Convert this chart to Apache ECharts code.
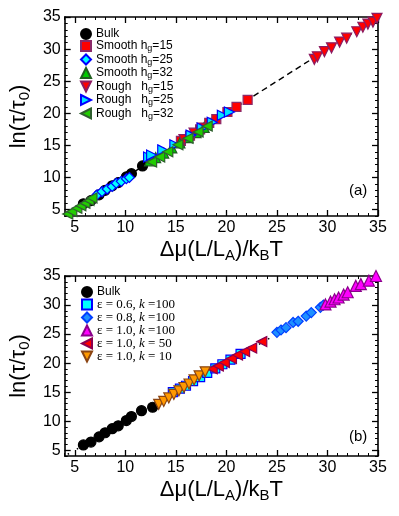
<!DOCTYPE html>
<html>
<head>
<meta charset="utf-8">
<script src="https://cdn.jsdelivr.net/npm/echarts@6/dist/echarts.min.js"></script>
<style>
  html, body { margin: 0; padding: 0; background: #fff; }
  #chart { width: 399px; height: 516px; }
</style>
</head>
<body>
<div id="chart"></div>
<script>
// axis ticks (both panels, both axes)
const axisMin = 4;
const axisMax = 35;
const majorTicks = [5, 10, 15, 20, 25, 30, 35];

// panel (a)
const bulkAX = [5.85, 6.6, 7.4, 8.0, 8.7, 9.3, 10.1, 10.6, 11.7];
const bulkAY = [5.9, 6.4, 7.3, 8.0, 8.7, 9.2, 10.1, 10.6, 11.8];
const smooth15X = [15.5, 16.4, 17.4, 18.3, 19.0, 20.1, 21.0, 22.1];
const smooth15Y = [15.7, 16.5, 17.5, 18.5, 19.1, 20.2, 21.0, 22.1];
const smooth25X = [7.2, 7.7, 8.2, 8.7, 9.1, 9.6, 10.1, 10.4];
const smooth25Y = [7.3, 7.8, 8.2, 8.6, 9.1, 9.4, 9.8, 10.0];
const smooth32X = [12.4, 13.0, 13.8, 14.6, 15.4, 16.2, 17.0, 17.8];
const smooth32Y = [12.6, 13.1, 13.8, 14.6, 15.4, 16.2, 17.0, 17.8];
const rough15X = [15.8, 16.8, 17.6, 28.7, 29.0, 29.7, 30.4, 31.2, 31.9, 32.9, 33.5, 34.0, 34.5, 34.9];
const rough15Y = [15.9, 16.9, 17.7, 28.4, 28.8, 29.6, 30.2, 31.1, 31.7, 32.7, 33.4, 33.9, 34.2, 34.8];
const rough25X = [12.3, 12.6, 13.7, 14.9, 16.5, 17.6, 18.6, 19.6, 20.3];
const rough25Y = [13.2, 13.5, 14.3, 15.1, 16.6, 17.7, 18.6, 19.7, 20.2];
const rough32X = [4.3, 4.7, 5.2, 5.6, 6.0, 6.4, 6.7, 12.6, 13.4, 14.2, 15.2, 16.2, 17.2, 18.1];
const rough32Y = [4.3, 4.7, 5.2, 5.6, 6.0, 6.4, 6.8, 12.4, 13.2, 14.0, 15.1, 16.1, 17.1, 18.0];
const fitAX = [4.3, 35];
const fitAY = [4.3, 35];

// panel (b)
const bulkBX = [5.85, 6.6, 7.4, 8.0, 8.7, 9.3, 10.1, 10.6, 11.6, 12.7];
const bulkBY = [5.9, 6.4, 7.3, 8.0, 8.7, 9.2, 10.1, 10.8, 11.8, 12.4];
const eps06X = [14.7, 15.4, 16.0, 16.7, 17.4, 18.1, 18.9, 19.6, 20.4, 21.4];
const eps06Y = [15.0, 15.6, 16.1, 16.9, 17.6, 18.3, 19.1, 19.8, 20.6, 21.6];
const eps08X = [25.0, 25.4, 25.9, 26.6, 27.1, 27.9, 28.4, 29.3, 29.6];
const eps08Y = [25.3, 25.7, 26.1, 27.0, 27.2, 28.1, 28.7, 29.6, 30.0];
const k100X = [29.8, 30.3, 30.7, 31.1, 31.6, 32.0, 32.8, 33.3, 34.1, 34.8];
const k100Y = [30.1, 30.6, 31.0, 31.3, 31.8, 32.2, 33.3, 33.6, 34.2, 35.0];
const k50X = [18.6, 19.2, 19.8, 20.5, 21.1, 21.8, 22.5, 23.5];
const k50Y = [19.0, 19.5, 20.1, 20.8, 21.4, 22.0, 22.6, 23.7];
const k10X = [13.3, 13.8, 14.3, 14.8, 15.3, 15.8, 16.3, 16.8, 17.3, 17.9];
const k10Y = [12.9, 13.4, 14.0, 14.6, 15.2, 15.8, 16.4, 17.1, 17.8, 18.5];
const fitBX = [4.3, 35];
const fitBY = [4.3, 35];

const SANS = '"Liberation Sans", Arial, sans-serif';
const SERIF = '"Liberation Serif", "DejaVu Serif", serif';

const minorTicks = [];
for (let v = axisMin; v <= axisMax; v++) minorTicks.push(v);

const TRI_DOWN = 'path://M0,0L10,0L5,10Z';
const TRI_RIGHT = 'path://M0,0L10,5L0,10Z';
const TRI_LEFT = 'path://M10,0L0,5L10,10Z';

function pairs(xs, ys) {
    return xs.map((x, i) => [x, ys[i]]);
}

const chart = echarts.init(document.getElementById('chart'));

// 4 axes per direction per grid: main (labels + major ticks), minor, mirrored major, mirrored minor
function makeAxes(dim, gi, name, nameGap) {
    const posA = dim === 'x' ? 'bottom' : 'left';
    const posB = dim === 'x' ? 'top' : 'right';
    const base = {
        type: 'value', gridIndex: gi, min: axisMin, max: axisMax,
        splitLine: { show: false }
    };
    const line = { show: true, onZero: false, lineStyle: { color: '#000', width: 1.6 } };
    const noLine = { show: false, onZero: false };
    const major = { show: true, inside: true, length: 6, customValues: majorTicks, lineStyle: { color: '#000', width: 1.3 } };
    const minor = { show: true, inside: true, length: 3, customValues: minorTicks, lineStyle: { color: '#000', width: 1 } };
    return [
        Object.assign({}, base, {
            position: posA, axisLine: line, axisTick: major,
            axisLabel: { customValues: majorTicks, fontSize: 16, color: '#000', fontFamily: SANS, margin: 4 },
            name: name, nameLocation: 'middle', nameGap: nameGap,
            nameTextStyle: {
                color: '#000', fontFamily: SANS,
                rich: {
                    n: { fontSize: 22, lineHeight: 26, fontFamily: SANS, color: '#000' },
                    s: { fontSize: 15, lineHeight: 10, verticalAlign: 'bottom', fontFamily: SANS, color: '#000' }
                }
            }
        }),
        Object.assign({}, base, { position: posA, axisLine: noLine, axisTick: minor, axisLabel: { show: false } }),
        Object.assign({}, base, { position: posB, axisLine: line, axisTick: major, axisLabel: { show: false } }),
        Object.assign({}, base, { position: posB, axisLine: noLine, axisTick: minor, axisLabel: { show: false } })
    ];
}

const xName = '{n|Δμ(L/L}{s|A}{n|)/k}{s|B}{n|T}';
const yName = '{n|ln(τ/τ}{s|0}{n|)}';

function scatter(name, gi, xs, ys, symbol, size, fill, edge) {
    return {
        name: name, type: 'scatter', xAxisIndex: gi * 4, yAxisIndex: gi * 4,
        data: pairs(xs, ys), symbol: symbol, symbolSize: size, clip: false,
        itemStyle: { color: fill, borderColor: edge, borderWidth: 1.2, opacity: 1 }
    };
}

const legendA = {
    'Bulk': '{n|Bulk}',
    'Smooth hg=15': '{n|Smooth h}{s|g}{n|=15}',
    'Smooth hg=25': '{n|Smooth h}{s|g}{n|=25}',
    'Smooth hg=32': '{n|Smooth h}{s|g}{n|=32}',
    'Rough hg=15': '{n|Rough   h}{s|g}{n|=15}',
    'Rough hg=25': '{n|Rough   h}{s|g}{n|=25}',
    'Rough hg=32': '{n|Rough   h}{s|g}{n|=32}'
};
const legendB = {
    'Bulk ': '{b|Bulk}',
    'e06': '{n|ε = 0.6, }{i|k}{n| =100}',
    'e08': '{n|ε = 0.8, }{i|k}{n| =100}',
    'k100': '{n|ε = 1.0, }{i|k}{n| =100}',
    'k50': '{n|ε = 1.0, }{i|k}{n| = 50}',
    'k10': '{n|ε = 1.0, }{i|k}{n| = 10}'
};

const option = {
    animation: false,
    backgroundColor: '#fff',
    grid: [
        { left: 60, right: 21, top: 17, height: 199 },
        { left: 60, right: 21, top: 276, height: 180 }
    ],
    xAxis: makeAxes('x', 0, xName, 21).concat(makeAxes('x', 1, xName, 21)),
    yAxis: makeAxes('y', 0, yName, 32).concat(makeAxes('y', 1, yName, 32)),
    legend: [
        {
            orient: 'vertical', left: 75, top: 23, itemWidth: 10, itemHeight: 10, itemGap: 0,
            data: Object.keys(legendA),
            formatter: n => legendA[n],
            textStyle: {
                rich: {
                    n: { fontSize: 12, lineHeight: 15, fontFamily: SANS, color: '#000' },
                    s: { fontSize: 9, lineHeight: 6, verticalAlign: 'bottom', fontFamily: SANS, color: '#000' }
                }
            }
        },
        {
            orient: 'vertical', left: 76, top: 281, itemWidth: 10, itemHeight: 10, itemGap: 0,
            data: Object.keys(legendB),
            formatter: n => legendB[n],
            textStyle: {
                rich: {
                    b: { fontSize: 12, lineHeight: 13, fontFamily: SANS, color: '#000' },
                    n: { fontSize: 13, lineHeight: 13, fontFamily: SERIF, color: '#000' },
                    i: { fontSize: 13, lineHeight: 13, fontFamily: SERIF, fontStyle: 'italic', color: '#000' }
                }
            }
        }
    ],
    graphic: [
        { type: 'text', left: 349, top: 183, style: { text: '(a)', fontSize: 15, fontFamily: SANS, fill: '#000' } },
        { type: 'text', left: 349, top: 429, style: { text: '(b)', fontSize: 15, fontFamily: SANS, fill: '#000' } }
    ],
    series: [
        {
            type: 'line', xAxisIndex: 0, yAxisIndex: 0, data: pairs(fitAX, fitAY), symbol: 'none',
            lineStyle: { color: '#000', width: 1.4, type: [6, 4] }, z: 1
        },
        scatter('Bulk', 0, bulkAX, bulkAY, 'circle', 10, '#000', '#000'),
        scatter('Smooth hg=15', 0, smooth15X, smooth15Y, 'rect', 9, '#ff0000', '#8b2a6a'),
        scatter('Smooth hg=25', 0, smooth25X, smooth25Y, 'diamond', 10, '#00ffff', '#0000ff'),
        scatter('Smooth hg=32', 0, smooth32X, smooth32Y, 'triangle', 10, '#00cc00', '#1f5f1f'),
        scatter('Rough hg=15', 0, rough15X, rough15Y, TRI_DOWN, 10, '#ff0000', '#8b1c62'),
        scatter('Rough hg=25', 0, rough25X, rough25Y, TRI_RIGHT, 10, '#00e5ff', '#0000ff'),
        scatter('Rough hg=32', 0, rough32X, rough32Y, TRI_LEFT, 10, '#22cc00', '#2f5f2f'),

        {
            type: 'line', xAxisIndex: 4, yAxisIndex: 4, data: pairs(fitBX, fitBY), symbol: 'none',
            lineStyle: { color: '#000', width: 1.5, type: [1.5, 9] }, z: 1
        },
        scatter('Bulk ', 1, bulkBX, bulkBY, 'circle', 10, '#000', '#000'),
        scatter('e06', 1, eps06X, eps06Y, 'rect', 9, '#00ffff', '#0000ff'),
        scatter('e08', 1, eps08X, eps08Y, 'diamond', 10, '#1e90ff', '#0040ff'),
        scatter('k100', 1, k100X, k100Y, 'triangle', 11, '#ff00ff', '#8b008b'),
        scatter('k50', 1, k50X, k50Y, TRI_LEFT, 10, '#ff0000', '#8b0050'),
        scatter('k10', 1, k10X, k10Y, TRI_DOWN, 10, '#ff9900', '#8b4513')
    ]
};

chart.setOption(option);
</script>
</body>
</html>
